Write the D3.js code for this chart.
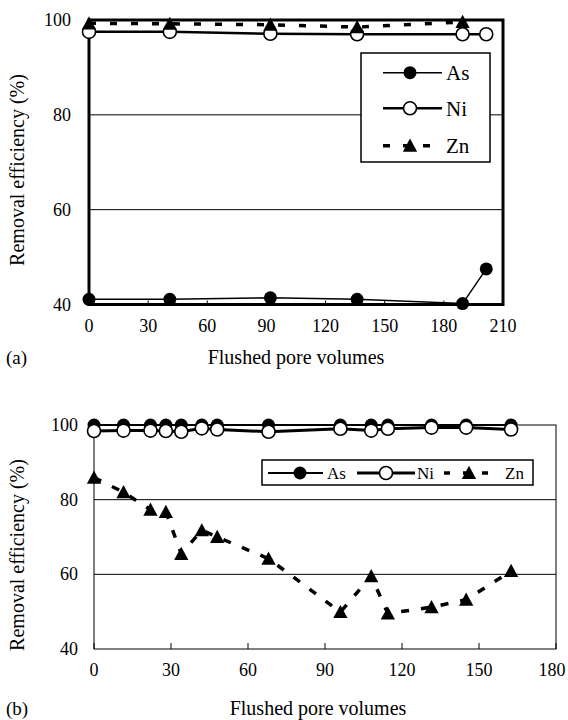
<!DOCTYPE html>
<html>
<head>
<meta charset="utf-8">
<script src="https://cdn.jsdelivr.net/npm/d3@7"></script>
<style>
body { margin: 0; background: #fff; }
</style>
</head>
<body>
<script>
// panel (a)
var poreA = [0, 41, 92, 136, 189.5, 201.5];
var asA = [41.1, 41.1, 41.4, 41.1, 40.2, 47.5];
var niA = [97.5, 97.5, 97.1, 97.0, 97.0, 97.0];
var poreZnA = [0, 41, 92, 136, 189.5];
var znA = [99.3, 99.2, 99.0, 98.5, 99.6];
var xTicksA = [0, 30, 60, 90, 120, 150, 180, 210];

// panel (b)
var poreB = [0, 11.5, 22, 28, 34, 42, 48, 68, 96, 108, 114.5, 131.5, 145, 162.5];
var asB = [100, 100, 100, 100, 100, 100, 100, 100, 100, 100, 100, 100, 100, 100];
var niB = [98.4, 98.5, 98.5, 98.4, 98.2, 99.1, 98.8, 98.2, 99.0, 98.5, 99.0, 99.3, 99.3, 98.8];
var znB = [85.9, 82.0, 77.3, 76.7, 65.5, 71.8, 70.0, 64.2, 49.9, 59.5, 49.5, 51.2, 53.2, 60.9];
var xTicksB = [0, 30, 60, 90, 120, 150, 180];

var yTicks = [40, 60, 80, 100];
var seriesNames = ["As", "Ni", "Zn"];

var svg = d3.select("body").append("svg").attr("width", 568).attr("height", 720)
            .attr("font-family", "'Liberation Serif', 'Times New Roman', Times, serif");

function zip(xs, ys) {
    return xs.map(function (x, i) { return [x, ys[i]]; });
}

function drawMarker(g, type, x, y, r) {
    if (type === "As") {
        g.append("circle").attr("cx", x).attr("cy", y).attr("r", r).attr("fill", "#000");
    } else if (type === "Ni") {
        g.append("circle").attr("cx", x).attr("cy", y).attr("r", r)
         .attr("fill", "#fff").attr("stroke", "#000").attr("stroke-width", 1.6);
    } else {
        var s = r * 1.1;
        g.append("path")
         .attr("d", "M" + x + "," + (y - s) + "L" + (x + s) + "," + (y + s * 0.85) + "L" + (x - s) + "," + (y + s * 0.85) + "Z")
         .attr("fill", "#000");
    }
}

function drawPanel(cfg) {
    var g = svg.append("g");
    var x = d3.scaleLinear().domain(cfg.xDomain).range([cfg.left, cfg.right]);
    var y = d3.scaleLinear().domain([40, 100]).range([cfg.bottom, cfg.top]);

    // gridlines
    g.selectAll(".grid").data([60, 80]).enter().append("line")
     .attr("x1", cfg.left).attr("x2", cfg.right)
     .attr("y1", function (d) { return y(d); }).attr("y2", function (d) { return y(d); })
     .attr("stroke", "#000").attr("stroke-width", 1);

    // frame
    g.append("rect").attr("x", cfg.left).attr("y", cfg.top)
     .attr("width", cfg.right - cfg.left).attr("height", cfg.bottom - cfg.top)
     .attr("fill", "none").attr("stroke", "#000").attr("stroke-width", cfg.frameWidth);

    // x ticks (inside)
    g.selectAll(".xt").data(cfg.xTicks).enter().append("line")
     .attr("x1", function (d) { return x(d); }).attr("x2", function (d) { return x(d); })
     .attr("y1", cfg.bottom).attr("y2", cfg.bottom - cfg.tickLen)
     .attr("stroke", "#000").attr("stroke-width", 1);

    g.selectAll(".xl").data(cfg.xTicks).enter().append("text")
     .attr("x", function (d) { return Math.min(x(d), 552); }).attr("y", cfg.xLabelY)
     .attr("text-anchor", "middle").attr("font-size", 18)
     .text(function (d) { return d; });

    g.selectAll(".yl").data(yTicks).enter().append("text")
     .attr("x", cfg.yLabelX).attr("y", function (d) { return y(d) + 6; })
     .attr("text-anchor", "end").attr("font-size", 18)
     .text(function (d) { return d; });

    // axis titles
    g.append("text").attr("transform", "translate(" + 24 + "," + cfg.yTitleY + ") rotate(-90)")
     .attr("text-anchor", "middle").attr("font-size", 20).text("Removal efficiency (%)");
    g.append("text").attr("x", cfg.xTitleX).attr("y", cfg.xTitleY)
     .attr("text-anchor", "middle").attr("font-size", 20).text("Flushed pore volumes");
    g.append("text").attr("x", 6).attr("y", cfg.xTitleY)
     .attr("font-size", 19).text(cfg.tag);

    var line = d3.line().x(function (d) { return x(d[0]); }).y(function (d) { return y(d[1]); });

    cfg.series.forEach(function (s) {
        g.append("path").datum(s.points).attr("d", line)
         .attr("fill", "none").attr("stroke", "#000")
         .attr("stroke-width", s.width)
         .attr("stroke-dasharray", s.dash || null);
    });
    cfg.series.forEach(function (s) {
        s.points.forEach(function (p) {
            drawMarker(g, s.name, x(p[0]), y(p[1]), cfg.r);
        });
    });

    // legend
    var lg = cfg.legend;
    g.append("rect").attr("x", lg.x).attr("y", lg.y).attr("width", lg.w).attr("height", lg.h)
     .attr("fill", "#fff").attr("stroke", "#000").attr("stroke-width", 1.5);
    cfg.series.forEach(function (s, i) {
        var it = lg.items[i];
        g.append("line").attr("x1", it.x1).attr("x2", it.x2).attr("y1", it.y).attr("y2", it.y)
         .attr("stroke", "#000").attr("stroke-width", s.width)
         .attr("stroke-dasharray", s.legendDash || null);
        drawMarker(g, s.name, it.mx, it.y, cfg.r);
        g.append("text").attr("x", it.tx).attr("y", it.y + lg.fs * 0.35)
         .attr("font-size", lg.fs).text(s.name);
    });
}

drawPanel({
    tag: "(a)",
    left: 89, right: 503, top: 20, bottom: 304.5,
    xDomain: [0, 210], xTicks: xTicksA, tickLen: 4, frameWidth: 3,
    xLabelY: 332, yLabelX: 71, yTitleY: 170, xTitleX: 296, xTitleY: 364,
    r: 6.5,
    series: [
        { name: seriesNames[0], points: zip(poreA, asA), width: 1.5 },
        { name: seriesNames[1], points: zip(poreA, niA), width: 2.5 },
        { name: seriesNames[2], points: zip(poreZnA, znA), width: 3.5, dash: "7,14", legendDash: "7,13" }
    ],
    legend: {
        x: 361, y: 53, w: 129, h: 109, fs: 21,
        items: [
            { y: 72.7, x1: 383, x2: 442, mx: 410, tx: 446 },
            { y: 108.3, x1: 383, x2: 442, mx: 410, tx: 446 },
            { y: 145.7, x1: 383, x2: 442, mx: 410, tx: 446 }
        ]
    }
});

drawPanel({
    tag: "(b)",
    left: 94, right: 556, top: 425, bottom: 649,
    xDomain: [0, 180], xTicks: xTicksB, tickLen: 6, frameWidth: 1,
    xLabelY: 676, yLabelX: 78, yTitleY: 555, xTitleX: 318, xTitleY: 715,
    r: 6.5,
    series: [
        { name: seriesNames[0], points: zip(poreB, asB), width: 2 },
        { name: seriesNames[1], points: zip(poreB, niB), width: 3 },
        { name: seriesNames[2], points: zip(poreB, znB), width: 3.5, dash: "8,12", legendDash: "6,13" }
    ],
    legend: {
        x: 262, y: 460, w: 271, h: 25, fs: 17,
        items: [
            { y: 473, x1: 268, x2: 323, mx: 300, tx: 327 },
            { y: 473, x1: 357, x2: 415, mx: 386, tx: 417 },
            { y: 473, x1: 444, x2: 494, mx: 469, tx: 505 }
        ]
    }
});
</script>
</body>
</html>
